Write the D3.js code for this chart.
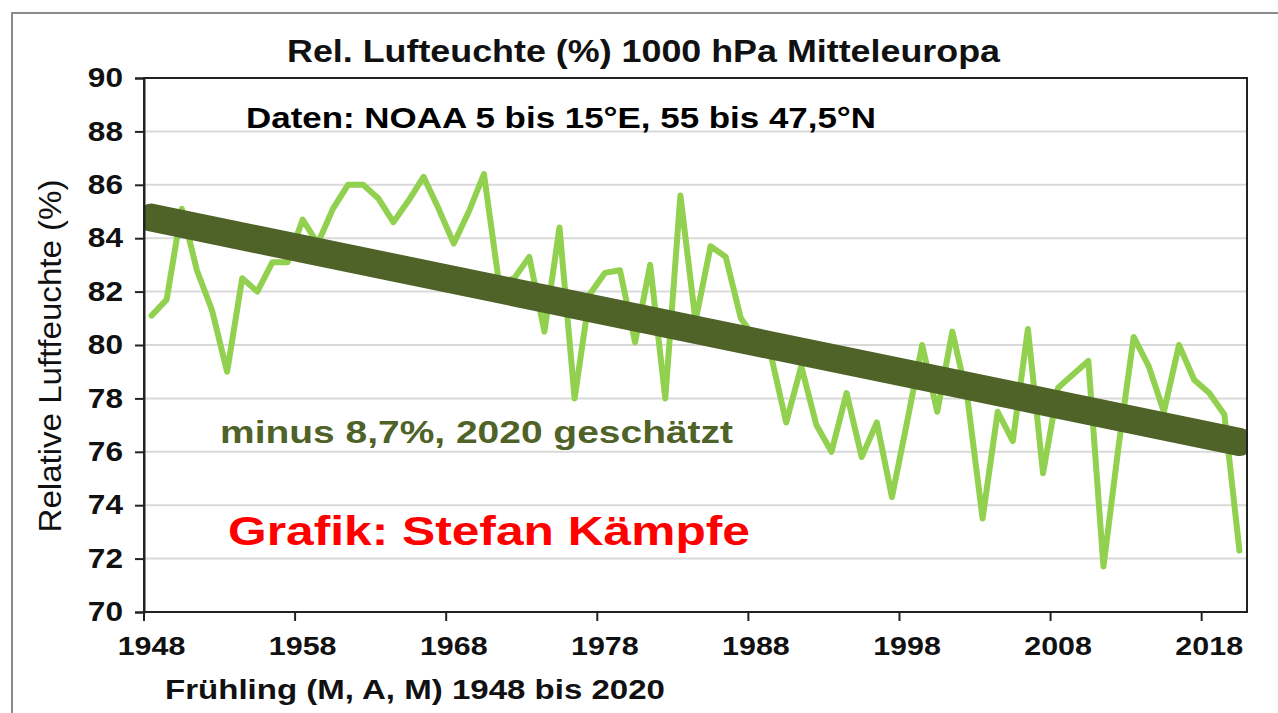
<!DOCTYPE html>
<html>
<head>
<meta charset="utf-8">
<script src="https://cdn.jsdelivr.net/npm/d3@7"></script>
<style>
  body { margin: 0; background: #fff; }
  text { font-family: "Liberation Sans", Arial, sans-serif; }
</style>
</head>
<body>
<div id="chart"></div>
<script>
// Frühling (M, A, M) rel. Luftfeuchte 1000 hPa, Mitteleuropa
var years = d3.range(1948, 2021);
var humidity = [
  81.1, 81.7, 85.1, 82.8, 81.3, 79.0, 82.5, 82.0, 83.1, 83.1,
  84.7, 83.8, 85.1, 86.0, 86.0, 85.5, 84.6, 85.4, 86.3, 85.1,
  83.8, 85.0, 86.4, 82.3, 82.5, 83.3, 80.5, 84.4, 78.0, 81.9,
  82.7, 82.8, 80.1, 83.0, 78.0, 85.6, 80.9, 83.7, 83.3, 81.0,
  80.2, 79.6, 77.1, 79.2, 77.0, 76.0, 78.2, 75.8, 77.1, 74.3,
  77.1, 80.0, 77.5, 80.5, 78.0, 73.5, 77.5, 76.4, 80.6, 75.2,
  78.4, 78.9, 79.4, 71.7, 76.2, 80.3, 79.2, 77.5, 80.0, 78.7,
  78.2, 77.4, 72.3
];
var trendYears = [1948, 2020];
var trendValues = [84.77, 76.37];
var yTicks = [70, 72, 74, 76, 78, 80, 82, 84, 86, 88, 90];
var xTickYears = [1948, 1958, 1968, 1978, 1988, 1998, 2008, 2018];

var width = 1278, height = 713,
    plot = { left: 144, right: 1247, top: 78, bottom: 612 },
    sx = 1.17; // the picture is stretched horizontally

var svg = d3.select("#chart").append("svg")
    .attr("width", width)
    .attr("height", height);

// outer frame (runs off the right and bottom)
svg.append("rect")
    .attr("x", 12).attr("y", 13)
    .attr("width", 1320).attr("height", 760)
    .style("fill", "#fff")
    .style("stroke", "#8a8a8a")
    .style("stroke-width", 2);

var x = d3.scaleBand()
    .domain(years)
    .range([plot.left, plot.right]);

var y = d3.scaleLinear()
    .domain([70, 90])
    .range([plot.bottom, plot.top]);

function cx(yr) { return x(yr) + x.bandwidth() / 2; }

function stretch(sel) {
  sel.attr("textLength", function() { return this.getComputedTextLength() * sx; })
     .attr("lengthAdjust", "spacingAndGlyphs");
}

// gridlines
svg.selectAll(".grid")
    .data(yTicks.slice(1, -1))
    .enter().append("line")
      .attr("class", "grid")
      .attr("x1", plot.left).attr("x2", plot.right)
      .attr("y1", function(d) { return y(d); })
      .attr("y2", function(d) { return y(d); })
      .style("stroke", "#d9d9d9")
      .style("stroke-width", 2);

// clip for thick trend line
svg.append("clipPath").attr("id", "plotclip")
  .append("rect")
    .attr("x", plot.left).attr("y", plot.top)
    .attr("width", plot.right - plot.left)
    .attr("height", plot.bottom - plot.top);

var line = d3.line()
    .x(function(d) { return cx(d[0]); })
    .y(function(d) { return y(d[1]); });

svg.append("path")
    .datum(d3.zip(years, humidity))
    .attr("d", line)
    .attr("clip-path", "url(#plotclip)")
    .style("fill", "none")
    .style("stroke", "#92d050")
    .style("stroke-width", 6)
    .style("stroke-linejoin", "round")
    .style("stroke-linecap", "round");

svg.append("path")
    .datum(d3.zip(trendYears, trendValues))
    .attr("d", line)
    .attr("clip-path", "url(#plotclip)")
    .style("fill", "none")
    .style("stroke", "#4f6228")
    .style("stroke-width", 28)
    .style("stroke-linecap", "round");

// plot border
svg.append("rect")
    .attr("x", plot.left).attr("y", plot.top)
    .attr("width", plot.right - plot.left)
    .attr("height", plot.bottom - plot.top)
    .style("fill", "none")
    .style("stroke", "#222")
    .style("stroke-width", 2);

// y axis
var yAxis = svg.append("g")
    .attr("transform", "translate(" + plot.left + ",0)")
    .call(d3.axisLeft(y).tickValues(yTicks).tickSize(9).tickPadding(12).tickFormat(d3.format("d")));
yAxis.select(".domain").style("stroke", "#222").style("stroke-width", 2);
yAxis.selectAll(".tick line").style("stroke", "#222").style("stroke-width", 2);
yAxis.selectAll(".tick text")
    .style("font-size", "27px").style("font-weight", "bold").style("fill", "#111")
    .call(stretch);

// x axis: ticks between categories, labels on the category centre
svg.selectAll(".xtick")
    .data(xTickYears)
    .enter().append("line")
      .attr("class", "xtick")
      .attr("x1", function(d) { return x(d); })
      .attr("x2", function(d) { return x(d); })
      .attr("y1", plot.bottom).attr("y2", plot.bottom + 9)
      .style("stroke", "#222")
      .style("stroke-width", 2);

svg.selectAll(".xlabel")
    .data(xTickYears)
    .enter().append("text")
      .attr("class", "xlabel")
      .attr("x", function(d) { return cx(d); })
      .attr("y", plot.bottom + 43)
      .style("text-anchor", "middle")
      .style("font-size", "26px").style("font-weight", "bold").style("fill", "#111")
      .text(function(d) { return d; })
      .call(stretch);

// texts
svg.append("text")
    .attr("x", 287).attr("y", 62)
    .attr("textLength", 713).attr("lengthAdjust", "spacingAndGlyphs")
    .style("font-size", "31px").style("font-weight", "bold").style("fill", "#111")
    .text("Rel. Lufteuchte (%) 1000 hPa Mitteleuropa");

svg.append("text")
    .attr("x", 246).attr("y", 128)
    .attr("textLength", 630).attr("lengthAdjust", "spacingAndGlyphs")
    .style("font-size", "30px").style("font-weight", "bold").style("fill", "#000")
    .text("Daten: NOAA 5 bis 15°E, 55 bis 47,5°N");

svg.append("text")
    .attr("x", 220).attr("y", 443)
    .attr("textLength", 513).attr("lengthAdjust", "spacingAndGlyphs")
    .style("font-size", "32px").style("font-weight", "bold").style("fill", "#4f6228")
    .text("minus 8,7%, 2020 geschätzt");

svg.append("text")
    .attr("x", 228).attr("y", 545)
    .attr("textLength", 522).attr("lengthAdjust", "spacingAndGlyphs")
    .style("font-size", "41px").style("font-weight", "bold").style("fill", "#ff0000")
    .text("Grafik: Stefan Kämpfe");

svg.append("text")
    .attr("x", 165).attr("y", 699)
    .attr("textLength", 500).attr("lengthAdjust", "spacingAndGlyphs")
    .style("font-size", "28px").style("font-weight", "bold").style("fill", "#111")
    .text("Frühling (M, A, M) 1948 bis 2020");

svg.append("text")
    .attr("transform", "translate(61,356) rotate(-90)")
    .attr("textLength", 353).attr("lengthAdjust", "spacingAndGlyphs")
    .style("text-anchor", "middle")
    .style("font-size", "31px").style("fill", "#111")
    .text("Relative Luftfeuchte (%)");
</script>
</body>
</html>
